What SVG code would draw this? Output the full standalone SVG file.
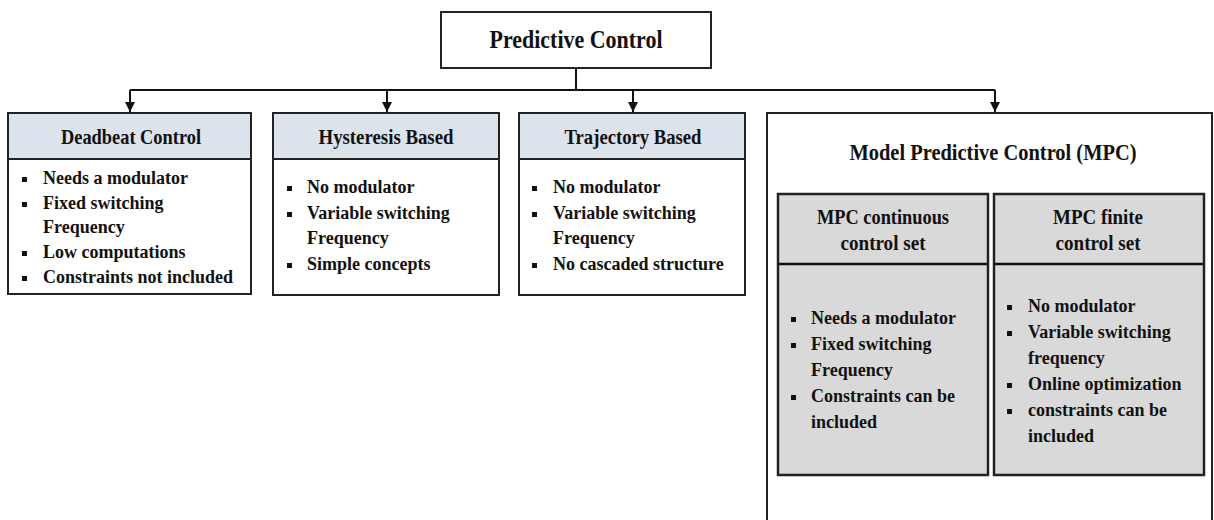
<svg xmlns="http://www.w3.org/2000/svg" width="1214" height="520" viewBox="0 0 1214 520">
<defs>
<marker id="arr" viewBox="0 0 10 10" refX="10" refY="5" markerWidth="10" markerHeight="10" markerUnits="userSpaceOnUse" orient="auto">
<path d="M0,0 L10,5 L0,10 z" fill="#111"/>
</marker>
</defs>
<style>
text{font-family:"Liberation Serif","Times New Roman",serif;font-weight:bold;fill:#111}
.box{fill:#fff;stroke:#222;stroke-width:2}
.hdr{fill:#dde3ec;stroke:#222;stroke-width:2}
.gray{fill:#d9d9d9;stroke:#222;stroke-width:2.5}
.t25{font-size:25px}
.t24{font-size:24px}
.t21{font-size:21px}
.t20{font-size:20px}
.t18{font-size:18px}
.b{fill:#111}
.c{text-anchor:middle}
.ln{stroke:#111;stroke-width:2;fill:none}
</style>
<g id="connectors">
<path class="ln" d="M576,68 V90 M130,90 H995"/>
<path class="ln" d="M130,90 V112" marker-end="url(#arr)"/>
<path class="ln" d="M387,90 V112" marker-end="url(#arr)"/>
<path class="ln" d="M633,90 V112" marker-end="url(#arr)"/>
<path class="ln" d="M995,90 V112" marker-end="url(#arr)"/>
</g>
<g id="predictive-control">
<rect class="box" x="441" y="12" width="270" height="56"/>
<text class="t25 c" x="576" y="48" textLength="173" lengthAdjust="spacingAndGlyphs">Predictive Control</text>
</g>
<g id="deadbeat">
<rect class="box" x="8" y="113" width="243" height="181"/>
<rect class="hdr" x="8" y="113" width="243" height="46"/>
<text class="t21 c" x="131" y="144" textLength="140" lengthAdjust="spacingAndGlyphs">Deadbeat Control</text>
<rect class="b" x="22" y="177" width="5" height="5"/>
<text class="t18" x="43" y="184">Needs a modulator</text>
<rect class="b" x="22" y="202" width="5" height="5"/>
<text class="t18" x="43" y="209">Fixed switching</text>
<text class="t18" x="43" y="233">Frequency</text>
<rect class="b" x="22" y="251" width="5" height="5"/>
<text class="t18" x="43" y="258">Low computations</text>
<rect class="b" x="22" y="276" width="5" height="5"/>
<text class="t18" x="43" y="283">Constraints not included</text>
</g>
<g id="hysteresis">
<rect class="box" x="273" y="113" width="226" height="182"/>
<rect class="hdr" x="273" y="113" width="226" height="46"/>
<text class="t21 c" x="386" y="144" textLength="135" lengthAdjust="spacingAndGlyphs">Hysteresis Based</text>
<rect class="b" x="287" y="186" width="5" height="5"/>
<text class="t18" x="307" y="193">No modulator</text>
<rect class="b" x="287" y="212" width="5" height="5"/>
<text class="t18" x="307" y="219">Variable switching</text>
<text class="t18" x="307" y="244">Frequency</text>
<rect class="b" x="287" y="263" width="5" height="5"/>
<text class="t18" x="307" y="270">Simple concepts</text>
</g>
<g id="trajectory">
<rect class="box" x="519" y="113" width="226" height="182"/>
<rect class="hdr" x="519" y="113" width="226" height="46"/>
<text class="t21 c" x="633" y="144" textLength="137" lengthAdjust="spacingAndGlyphs">Trajectory Based</text>
<rect class="b" x="532" y="186" width="5" height="5"/>
<text class="t18" x="553" y="193">No modulator</text>
<rect class="b" x="532" y="212" width="5" height="5"/>
<text class="t18" x="553" y="219">Variable switching</text>
<text class="t18" x="553" y="244">Frequency</text>
<rect class="b" x="532" y="263" width="5" height="5"/>
<text class="t18" x="553" y="270">No cascaded structure</text>
</g>
<g id="mpc">
<rect class="box" x="767" y="113" width="445" height="430"/>
<text class="t24 c" x="993" y="160" textLength="287" lengthAdjust="spacingAndGlyphs">Model Predictive Control (MPC)</text>
</g>
<g id="mpc-continuous">
<rect class="gray" x="778" y="194" width="210" height="281"/>
<line class="ln" x1="778" y1="264" x2="988" y2="264" style="stroke-width:2.5"/>
<text class="t20 c" x="883" y="224" textLength="132" lengthAdjust="spacingAndGlyphs">MPC continuous</text>
<text class="t20 c" x="883" y="250" textLength="85" lengthAdjust="spacingAndGlyphs">control set</text>
<rect class="b" x="791" y="317" width="5" height="5"/>
<text class="t18" x="811" y="324">Needs a modulator</text>
<rect class="b" x="791" y="343" width="5" height="5"/>
<text class="t18" x="811" y="350">Fixed switching</text>
<text class="t18" x="811" y="376">Frequency</text>
<rect class="b" x="791" y="395" width="5" height="5"/>
<text class="t18" x="811" y="402">Constraints can be</text>
<text class="t18" x="811" y="428">included</text>
</g>
<g id="mpc-finite">
<rect class="gray" x="994" y="194" width="210" height="281"/>
<line class="ln" x1="994" y1="264" x2="1204" y2="264" style="stroke-width:2.5"/>
<text class="t20 c" x="1098" y="224" textLength="90" lengthAdjust="spacingAndGlyphs">MPC finite</text>
<text class="t20 c" x="1098" y="250" textLength="85" lengthAdjust="spacingAndGlyphs">control set</text>
<rect class="b" x="1007" y="305" width="5" height="5"/>
<text class="t18" x="1028" y="312">No modulator</text>
<rect class="b" x="1007" y="331" width="5" height="5"/>
<text class="t18" x="1028" y="338">Variable switching</text>
<text class="t18" x="1028" y="364">frequency</text>
<rect class="b" x="1007" y="383" width="5" height="5"/>
<text class="t18" x="1028" y="390">Online optimization</text>
<rect class="b" x="1007" y="409" width="5" height="5"/>
<text class="t18" x="1028" y="416">constraints can be</text>
<text class="t18" x="1028" y="442">included</text>
</g>
</svg>
